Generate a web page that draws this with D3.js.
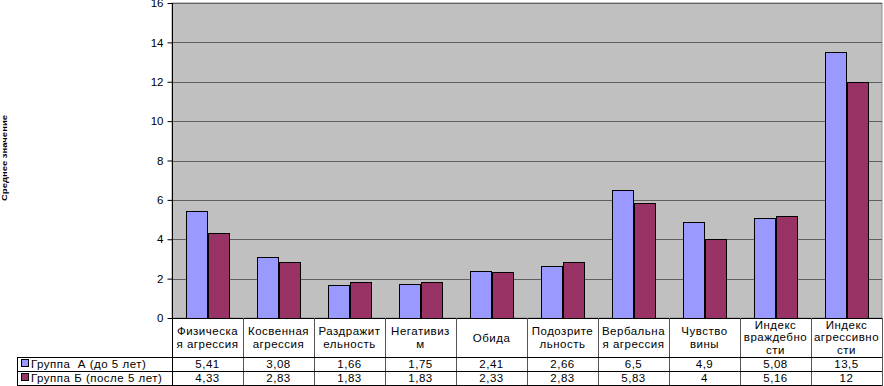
<html>
<head>
<meta charset="utf-8">
<title>Агрессивность</title>
<script src="https://d3js.org/d3.v7.min.js"></script>
<style>
body { margin: 0; background: #fff; }
text { font-family: "Liberation Sans", Arial, sans-serif; fill: #000; }
.tbl text { letter-spacing: 0.5px; }
</style>
</head>
<body>
<svg width="884" height="386"></svg>
<script>
// data
var categories = [
    ["Физическа", "я агрессия"],
    ["Косвенная", "агрессия"],
    ["Раздражит", "ельность"],
    ["Негативиз", "м"],
    ["Обида"],
    ["Подозрите", "льность"],
    ["Вербальна", "я агрессия"],
    ["Чувство", "вины"],
    ["Индекс", "враждебно", "сти"],
    ["Индекс", "агрессивно", "сти"]
];
var seriesNames = ["Группа  А (до 5 лет)", "Группа Б (после 5 лет)"];
var groupA = [5.41, 3.08, 1.66, 1.75, 2.41, 2.66, 6.5, 4.9, 5.08, 13.5];
var groupB = [4.33, 2.83, 1.83, 1.83, 2.33, 2.83, 5.83, 4, 5.16, 12];
var yTicks = [0, 2, 4, 6, 8, 10, 12, 14, 16];
var yTitle = "Среднее значение";
var colors = ["#9999ff", "#993366"];

var svg = d3.select("svg"),
    plotLeft = 172, plotRight = 882, plotTop = 3, plotBottom = 318,
    tableLeft = 17, rowH = [357, 371, 385];

var series = [groupA, groupB];

var x0 = d3.scaleBand().domain(d3.range(categories.length)).range([plotLeft, plotRight]);
var bw = x0.bandwidth();
var x1 = d3.scaleBand().domain(d3.range(series.length)).range([bw * 0.2, bw * 0.8]);
var y = d3.scaleLinear().domain([0, 16]).range([plotBottom, plotTop]);

var fmt = function(v) { return String(v).replace(".", ","); };

// plot background
svg.append("rect")
    .attr("x", plotLeft).attr("y", plotTop)
    .attr("width", plotRight - plotLeft).attr("height", plotBottom - plotTop)
    .attr("fill", "#c0c0c0")
    .attr("stroke", "#909090");

// grid
svg.append("g").selectAll("line")
    .data(yTicks.slice(1))
    .enter().append("line")
    .attr("x1", plotLeft).attr("x2", plotRight)
    .attr("y1", d => Math.round(y(d)) + 0.5).attr("y2", d => Math.round(y(d)) + 0.5)
    .attr("stroke", "#606060");

// bars
svg.append("g").selectAll("g")
    .data(series)
    .enter().append("g")
    .attr("fill", (d, i) => colors[i])
    .each(function(vals, si) {
        d3.select(this).selectAll("rect")
            .data(vals)
            .enter().append("rect")
            .attr("x", (d, i) => Math.round(x0(i) + x1(si)) + 0.5)
            .attr("y", d => Math.round(y(d)) + 0.5)
            .attr("width", Math.round(x1.bandwidth()))
            .attr("height", d => Math.round(y(0)) - Math.round(y(d)))
            .attr("stroke", "#000")
            .attr("stroke-width", 1);
    });

// y axis
var yAxis = svg.append("g")
    .attr("transform", "translate(" + (plotLeft + 0.5) + ",0)")
    .call(d3.axisLeft(y).tickValues(yTicks).tickSize(5).tickPadding(4));
yAxis.select(".domain").remove();
yAxis.selectAll("line").attr("stroke", "#000");
yAxis.selectAll("text").attr("font-size", "11.5px").attr("font-family", "Liberation Sans, Arial, sans-serif").attr("fill", "#000");

svg.append("text")
    .attr("transform", "translate(7,158) rotate(-90)")
    .attr("text-anchor", "middle")
    .attr("font-size", "7px")
    .attr("font-weight", "bold")
    .attr("textLength", 86)
    .attr("lengthAdjust", "spacingAndGlyphs")
    .text(yTitle);

// table lines
var tbl = svg.append("g").attr("stroke", "#000").attr("stroke-width", 1);
tbl.append("line").attr("x1", plotLeft + 0.5).attr("x2", plotLeft + 0.5).attr("y1", plotTop).attr("y2", 386);
tbl.append("line").attr("x1", plotLeft).attr("x2", plotRight).attr("y1", plotBottom + 0.5).attr("y2", plotBottom + 0.5);
d3.range(1, categories.length + 1).forEach(function(i) {
    var xx = i < categories.length ? x0(i) : plotRight;
    tbl.append("line").attr("x1", Math.round(xx) + 0.5).attr("x2", Math.round(xx) + 0.5)
        .attr("y1", plotBottom).attr("y2", 386).attr("stroke", "#555");
});
rowH.forEach(function(h) {
    tbl.append("line").attr("x1", tableLeft).attr("x2", plotRight).attr("y1", h + 0.5).attr("y2", h + 0.5);
});
tbl.append("line").attr("x1", tableLeft + 0.5).attr("x2", tableLeft + 0.5).attr("y1", rowH[0]).attr("y2", rowH[2]);

var texts = svg.append("g").attr("class", "tbl");

// category labels
var cat = texts.append("g").selectAll("text")
    .data(categories)
    .enter().append("text")
    .attr("text-anchor", "middle")
    .attr("font-size", "11.5px")
    .attr("x", (d, i) => x0(i) + bw / 2)
    .attr("y", d => (plotBottom + rowH[0]) / 2 - (d.length - 1) * 6.5 + 4);
cat.selectAll("tspan")
    .data(d => d)
    .enter().append("tspan")
    .attr("x", function() { return this.parentNode.getAttribute("x"); })
    .attr("dy", (d, i) => i === 0 ? 0 : 12.5)
    .text(d => d);

// table rows
series.forEach(function(vals, si) {
    var cy = (rowH[si] + rowH[si + 1]) / 2 + 4;
    var row = texts.append("g");
    row.append("rect")
        .attr("x", 21.5).attr("y", cy - 8.5)
        .attr("width", 7).attr("height", 7)
        .attr("fill", colors[si]).attr("stroke", "#000");
    row.append("text")
        .attr("x", 31).attr("y", cy)
        .attr("font-size", "11.5px")
        .style("white-space", "pre")
        .text(seriesNames[si]);
    row.selectAll("text.v")
        .data(vals)
        .enter().append("text")
        .attr("class", "v")
        .attr("text-anchor", "middle")
        .attr("font-size", "11.5px")
        .attr("x", (d, i) => x0(i) + bw / 2)
        .attr("y", cy)
        .text(fmt);
});
</script>
</body>
</html>
